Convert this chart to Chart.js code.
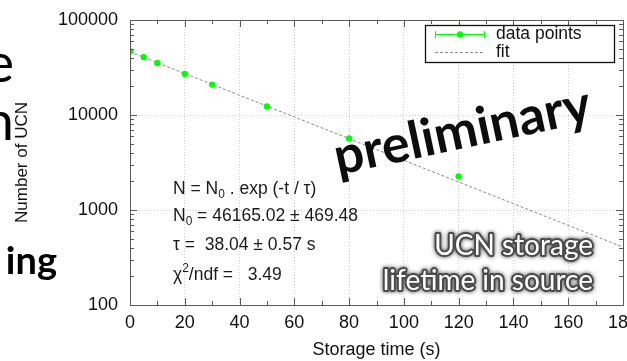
<!DOCTYPE html>
<html>
<head>
<meta charset="utf-8">
<script src="https://cdn.jsdelivr.net/npm/chart.js@4.4.0/dist/chart.umd.min.js"></script>
<style>
  html, body { margin: 0; padding: 0; background: #fff; }
  #wrap { position: relative; width: 627px; height: 361px; overflow: hidden; }
</style>
</head>
<body>
<div id="wrap"><canvas id="ucn" width="627" height="361"></canvas></div>
<script>
// measured UCN counts vs storage time
const storageTimes = [0, 5, 10, 20, 30, 50, 80, 120];
const ucnCounts = [46900, 40700, 35300, 27100, 20900, 12300, 5650, 2260];

// exponential fit, end points of the straight line on the log axis
const fitTimes = [0, 180];
const fitCounts = [46165, 407];

const xTicks = [0, 20, 40, 60, 80, 100, 120, 140, 160, 180];
const yTicks = [100, 1000, 10000, 100000];

const FONT = '"Liberation Sans", Arial, sans-serif';

// inward ticks on all four sides plus the frame
const frameTicks = {
  id: 'frameTicks',
  afterDatasetsDraw(chart) {
    const { ctx, chartArea: a, scales: { x, y } } = chart;
    ctx.save();
    ctx.strokeStyle = '#5a5a5a';
    ctx.lineWidth = 1;
    ctx.beginPath();
    for (let t = 10; t < 180; t += 10) {
      const px = Math.round(x.getPixelForValue(t)) + 0.5;
      const len = t % 20 === 0 ? 7 : 4;
      ctx.moveTo(px, a.bottom); ctx.lineTo(px, a.bottom - len);
      ctx.moveTo(px, a.top); ctx.lineTo(px, a.top + len);
    }
    for (let d = 100; d < 100000; d *= 10) {
      for (let k = 1; k < 10; k++) {
        if (d === 100 && k === 1) continue;
        const py = Math.round(y.getPixelForValue(d * k)) + 0.5;
        const len = k === 1 ? 7 : 4;
        ctx.moveTo(a.left, py); ctx.lineTo(a.left + len, py);
        ctx.moveTo(a.right, py); ctx.lineTo(a.right - len, py);
      }
    }
    ctx.stroke();
    ctx.strokeRect(Math.round(a.left) + 0.5, Math.round(a.top) + 0.5,
      Math.round(a.right - a.left), Math.round(a.bottom - a.top));
    ctx.restore();
  }
};

function drawRich(ctx, parts, x, y, size) {
  // parts: [text, 'sub' | 'sup' | undefined]
  let cx = x;
  for (const [txt, kind] of parts) {
    const s = kind ? size * 0.68 : size;
    const dy = kind === 'sub' ? size * 0.32 : kind === 'sup' ? -size * 0.38 : 0;
    ctx.font = s + 'px ' + FONT;
    ctx.fillText(txt, cx, y + dy);
    cx += ctx.measureText(txt).width;
  }
}

const fitText = [
  [['N = N'], ['0', 'sub'], [' . exp (-t / \u03c4)']],
  [['N'], ['0', 'sub'], [' = 46165.02 \u00b1 469.48']],
  [['\u03c4 =  38.04 \u00b1 0.57 s']],
  [['\u03c7'], ['2', 'sup'], ['/ndf =   3.49']]
];

const overlays = {
  id: 'overlays',
  afterDraw(chart) {
    const { ctx } = chart;
    ctx.save();

    // fit result box text
    ctx.fillStyle = '#1a1a1a';
    ctx.textBaseline = 'middle';
    const rows = [189, 216, 245, 275];
    fitText.forEach((parts, i) => drawRich(ctx, parts, 173, rows[i], 17.5));

    // legend
    ctx.fillStyle = '#fff';
    ctx.fillRect(425.5, 25.5, 189, 37);
    ctx.strokeStyle = '#111';
    ctx.lineWidth = 1.3;
    ctx.strokeRect(425.5, 25.5, 189, 37);
    ctx.strokeStyle = '#00ff00';
    ctx.lineWidth = 1;
    ctx.beginPath();
    ctx.moveTo(435, 34.5); ctx.lineTo(484, 34.5);
    ctx.moveTo(435.5, 31); ctx.lineTo(435.5, 38);
    ctx.moveTo(484.5, 31); ctx.lineTo(484.5, 38);
    ctx.stroke();
    ctx.fillStyle = '#00ff00';
    ctx.beginPath(); ctx.arc(460, 34.5, 3.2, 0, Math.PI * 2); ctx.fill();
    ctx.strokeStyle = '#8a8a8a';
    ctx.setLineDash([3, 2]);
    ctx.beginPath(); ctx.moveTo(435, 52.5); ctx.lineTo(484, 52.5); ctx.stroke();
    ctx.setLineDash([]);
    ctx.fillStyle = '#111';
    ctx.font = '17.5px ' + FONT;
    ctx.textBaseline = 'middle';
    ctx.fillText('data points', 496, 34);
    ctx.fillText('fit', 496, 52);

    // watermark
    ctx.save();
    ctx.translate(338, 175);
    ctx.rotate(-12 * Math.PI / 180);
    ctx.font = 'bold 52px Lato, "Open Sans", sans-serif';
    ctx.textBaseline = 'alphabetic';
    ctx.fillStyle = '#0d0d0d';
    ctx.fillText('preliminary', 0, 0);
    ctx.restore();

    // caption with dark outline
    ctx.font = '28px Lato, "Open Sans", sans-serif';
    ctx.textAlign = 'right';
    ctx.textBaseline = 'alphabetic';
    ctx.lineJoin = 'round';
    [['UCN storage', 255], ['lifetime in source', 290]].forEach(([t, by]) => {
      ctx.save();
      ctx.shadowColor = 'rgba(0,0,0,0.7)';
      ctx.shadowBlur = 4;
      ctx.strokeStyle = '#4a4a4a';
      ctx.lineWidth = 4;
      ctx.strokeText(t, 593, by);
      ctx.restore();
      ctx.fillStyle = '#fff';
      ctx.fillText(t, 593, by);
    });

    // slide text running in from the left
    ctx.fillStyle = '#000';
    ctx.textAlign = 'right';
    ctx.font = '54px Lato, "Open Sans", sans-serif';
    ctx.fillText('e', 14, 82);
    ctx.fillText('n', 14, 140);
    ctx.font = 'bold 38px Lato, "Open Sans", sans-serif';
    ctx.fillText('ing', 57, 274);
    ctx.restore();
  }
};

const majorGrid = c => c.tick && Number.isInteger(Math.log10(c.tick.value)) ? '#cfcfcf' : 'rgba(0,0,0,0)';

new Chart(document.getElementById('ucn'), {
  type: 'scatter',
  data: {
    datasets: [
      {
        label: 'data points',
        data: storageTimes.map((t, i) => ({ x: t, y: ucnCounts[i] })),
        pointRadius: 3.2,
        pointBackgroundColor: '#00ff00',
        pointBorderWidth: 0,
        order: 1
      },
      {
        label: 'fit',
        data: fitTimes.map((t, i) => ({ x: t, y: fitCounts[i] })),
        showLine: true,
        borderColor: '#8a8a8a',
        borderWidth: 1,
        borderDash: [3, 2],
        pointRadius: 0,
        order: 2
      }
    ]
  },
  options: {
    responsive: false,
    animation: false,
    devicePixelRatio: 1,
    layout: { padding: { top: 20, right: 2, left: 0, bottom: 0 } },
    plugins: { legend: { display: false }, tooltip: { enabled: false } },
    scales: {
      x: {
        type: 'linear',
        min: 0,
        max: 180,
        afterBuildTicks: s => { s.ticks = xTicks.map(v => ({ value: v })); },
        afterFit: s => { s.height = 56; s.paddingLeft = 0; s.paddingRight = 0; },
        grid: { color: '#cfcfcf', drawTicks: false },
        border: { display: false, dash: [1, 2] },
        ticks: { color: '#111', padding: 7, maxRotation: 0, autoSkip: false, font: { family: FONT, size: 18 } },
        title: { display: true, text: 'Storage time (s)', color: '#111', padding: 0, font: { family: FONT, size: 18 } }
      },
      y: {
        type: 'logarithmic',
        min: 100,
        max: 100000,
        afterBuildTicks: s => { s.ticks = yTicks.map(v => ({ value: v })); },
        afterFit: s => { s.width = 130; s.paddingTop = 0; s.paddingBottom = 0; },
        grid: { color: majorGrid, drawTicks: false },
        border: { display: false, dash: [1, 2] },
        ticks: { color: '#111', padding: 12, autoSkip: false, font: { family: FONT, size: 18 }, callback: v => String(v) },
        title: { display: true, text: 'Number of UCN', color: '#111', padding: { top: 12, bottom: 0 }, font: { family: FONT, size: 17 } }
      }
    }
  },
  plugins: [frameTicks, overlays]
});
</script>
</body>
</html>
